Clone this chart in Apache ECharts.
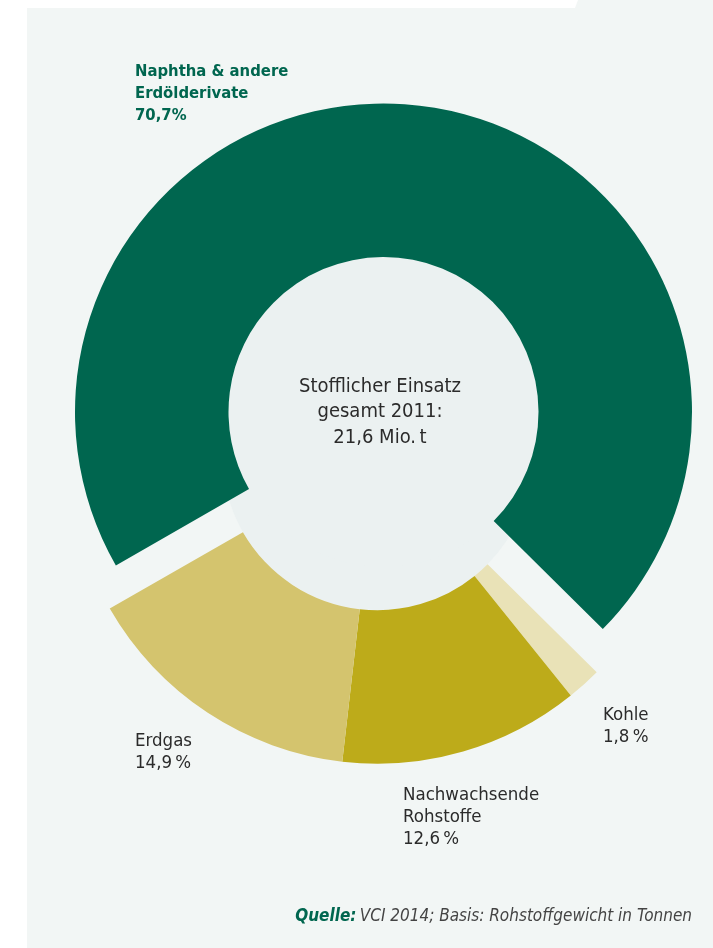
<!DOCTYPE html>
<html>
<head>
<meta charset="utf-8">
<script src="https://cdn.jsdelivr.net/npm/echarts@6/dist/echarts.min.js"></script>
<style>
  html, body { margin: 0; padding: 0; background: #ffffff; }
  #chart { width: 713px; height: 948px; }
</style>
</head>
<body>
<div id="chart"></div>
<script>
// Feedstock use of the chemical industry, 2011 (share of raw-material weight)
const categories = ['Kohle', 'Nachwachsende Rohstoffe', 'Erdgas', 'Naphtha & andere Erdölderivate'];
const shares = [1.8, 12.6, 14.9, 70.7];
const labelLines = [['Kohle'], ['Nachwachsende', 'Rohstoffe'], ['Erdgas'], ['Naphtha & andere', 'Erdölderivate']];
const centerLines = ['Stofflicher Einsatz', 'gesamt 2011:', '21,6 Mio.\u2009t'];
const sourceLabel = 'Quelle:';
const sourceText = 'VCI 2014; Basis: Rohstoffgewicht in Tonnen';

const colors = ['#e9e2b7', '#bdab1a', '#d4c46e', '#00664f'];
const MAIN = 3; // index of the pulled-out slice

const FONT = '"Liberation Sans Narrow", "DejaVu Sans Condensed", Roboto, sans-serif';
const BG = '#f2f6f5';
const HOLE = '#ebf1f1';

// geometry: the big slice and the rest of the ring sit on two shifted centres
const centreMain = [383.5, 412];
const centreRest = [377.4, 455.2];
const rInner = 155;
const rOuter = 308.5;
const start = -44.7;

const fmt = v => v.toFixed(1).replace('.', ',');

function ringData(keepMain) {
  return categories.map((name, i) => {
    const visible = (i === MAIN) === keepMain;
    return {
      name,
      value: shares[i],
      itemStyle: { color: visible ? colors[i] : 'rgba(0,0,0,0)' }
    };
  });
}

function holeSeries(c) {
  return {
    type: 'pie', silent: true, z: 1, animation: false,
    center: c, radius: [0, rInner],
    label: { show: false }, labelLine: { show: false },
    itemStyle: { color: HOLE, borderWidth: 0 },
    emphasis: { disabled: true },
    data: [{ value: 1, name: 'hole' }]
  };
}

function ringSeries(c, keepMain) {
  return {
    type: 'pie', silent: true, z: 2, animation: false,
    center: c, radius: [rInner, rOuter],
    startAngle: start, clockwise: true,
    avoidLabelOverlap: false,
    label: { show: false }, labelLine: { show: false },
    itemStyle: { borderWidth: 0 },
    emphasis: { disabled: true },
    data: ringData(keepMain)
  };
}

// label placement (top-left corner of each text block)
const labelPos = [[603, 704], [403, 784], [135, 61], [135, 730]];
const posFor = i => (i === MAIN ? labelPos[2] : (i === 2 ? labelPos[3] : labelPos[i]));

const labelGraphics = categories.map((name, i) => {
  const isMain = i === MAIN;
  const pct = isMain ? fmt(shares[i]) + '%' : fmt(shares[i]) + '\u2009%';
  const p = posFor(i);
  return {
    type: 'text', left: p[0], top: p[1], z: 10,
    style: {
      text: labelLines[i].concat([pct]).join('\n'),
      font: isMain ? 'bold 16.5px ' + FONT : '18.5px ' + FONT,
      lineHeight: 22,
      fill: isMain ? '#00664f' : '#2b2b2b'
    }
  };
});

const chart = echarts.init(document.getElementById('chart'), null, { renderer: 'canvas' });
chart.setOption({
  backgroundColor: '#ffffff',
  animation: false,
  graphic: [
    { type: 'rect', shape: { x: 27, y: 0, width: 686, height: 948 }, style: { fill: BG }, z: 0, silent: true },
    { type: 'polygon', shape: { points: [[27, 0], [578, 0], [575, 8], [27, 8]] }, style: { fill: '#ffffff' }, z: 0, silent: true },
    {
      type: 'text', x: 380, y: 412, z: 10,
      style: {
        text: centerLines.join('\n'),
        font: '20px ' + FONT,
        lineHeight: 25.5,
        fill: '#2b2b2b',
        align: 'center',
        verticalAlign: 'middle'
      }
    },
    {
      type: 'text', x: 692, y: 917, z: 10,
      style: {
        text: '{q|' + sourceLabel + '} {t|' + sourceText + '}',
        align: 'right', verticalAlign: 'middle',
        rich: {
          q: { font: 'italic bold 17px ' + FONT, fill: '#00664f' },
          t: { font: 'italic 17px ' + FONT, fill: '#444444' }
        }
      }
    }
  ].concat(labelGraphics),
  series: [
    holeSeries(centreRest),
    holeSeries(centreMain),
    ringSeries(centreMain, true),
    ringSeries(centreRest, false)
  ]
});
</script>
</body>
</html>
